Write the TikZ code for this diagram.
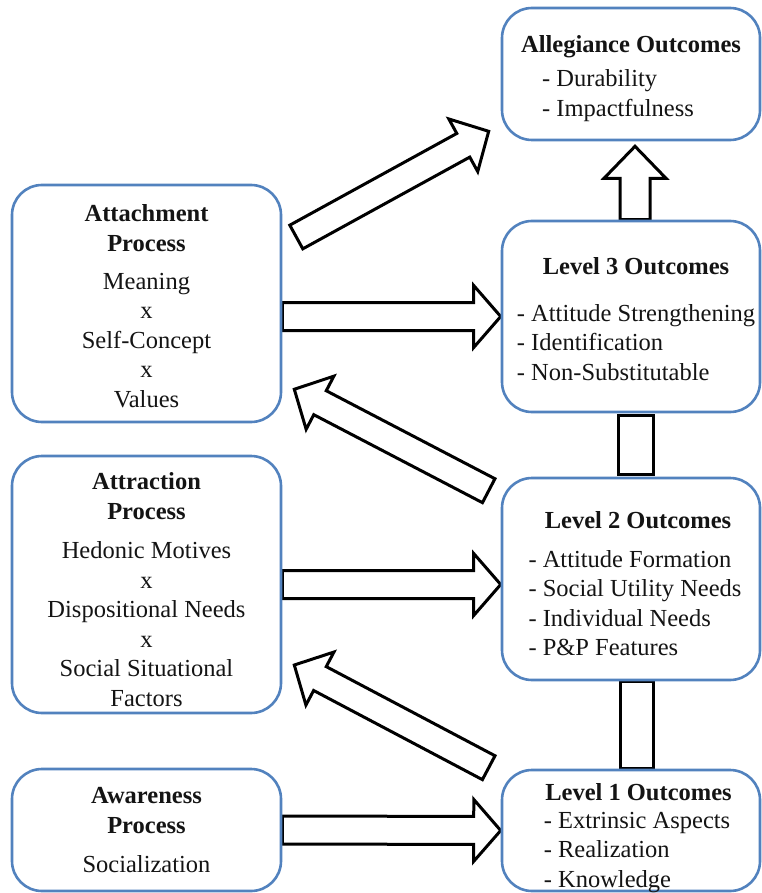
\documentclass[tikz,border=0pt]{standalone}
\usepackage{fontspec}
\setmainfont{Liberation Serif}
\usetikzlibrary{calc}
\pgfdeclarelayer{background}
\pgfsetlayers{background,main}
\definecolor{boxblue}{RGB}{82,130,190}
\definecolor{txt}{RGB}{20,20,20}
% #1 tail, #2 tip, #3 shaft half width, #4 head half width, #5 head length
\newcommand{\fatarrow}[5]{%
  \draw[fatline] let \p1=(#1), \p2=(#2),
      \n1={atan2(\y2-\y1,\x2-\x1)}, \n2={veclen(\x2-\x1,\y2-\y1)} in
    [shift={(\p1)}, rotate=\n1]
    (0pt,-#3pt) -- ({\n2-#5pt},-#3pt) -- ({\n2-#5pt},-#4pt) -- ({\n2+0pt},0pt)
    -- ({\n2-#5pt},#4pt) -- ({\n2-#5pt},#3pt) -- (0pt,#3pt) -- cycle;}
\tikzset{
  box/.style={draw=boxblue, line width=2.6pt, rounded corners=30pt, fill=white,
    inner sep=0pt},
  boxtext/.style={inner sep=0pt, align=center, text=txt,
    font=\fontsize{24.5}{29.5}\selectfont},
  fatline/.style={draw=black, line width=3pt, fill=white, line join=miter}
}
\begin{document}
\begin{tikzpicture}[x=1pt,y=-1pt]
\useasboundingbox (0,0) rectangle (761,893);
% boxes
\node[box, minimum width=258pt, minimum height=132pt] (alleg) at (631,74) {};
\node[box, minimum width=258pt, minimum height=191pt] (lev3) at (631,316.5) {};
\node[box, minimum width=258pt, minimum height=202pt] (lev2) at (631,579) {};
\node[box, minimum width=258pt, minimum height=121pt] (lev1) at (631,830.5) {};
\node[box, minimum width=269pt, minimum height=237pt] (attach) at (146.5,303.5) {};
\node[box, minimum width=269pt, minimum height=257pt] (attr) at (146.5,584.5) {};
\node[box, minimum width=269pt, minimum height=122pt] (aware) at (146.5,830) {};
% texts
\node[boxtext] (allegt) at ($(alleg.center)+(0,6.5)$)
  {\textbf{Allegiance Outcomes}\\[4.5pt]\begin{tabular}[t]{@{}l@{}}- Durability\\- Impactfulness\end{tabular}\hspace*{26pt}};
\node[boxtext] (lev3t) at ($(lev3.center)+(5,6.5)$)
  {\textbf{Level 3 Outcomes}\\[17.5pt]\begin{tabular}[t]{@{}l@{}}- Attitude Strengthening\\- Identification\\- Non-Substitutable\end{tabular}};
\node[boxtext] (lev2t) at ($(lev2.center)+(4,9)$)
  {\hspace*{6pt}\textbf{Level 2 Outcomes}\\[9.5pt]\begin{tabular}[t]{@{}l@{}}- Attitude Formation\\- Social Utility Needs\\- Individual Needs\\- P\&P Features\end{tabular}};
\node[boxtext] (lev1t) at ($(lev1.center)+(6,9)$)
  {\hspace*{3pt}\textbf{Level 1 Outcomes}\\[-1.5pt]\begin{tabular}[t]{@{}l@{}}- Extrinsic Aspects\\- Realization\\- Knowledge\end{tabular}};
\node[boxtext] (attacht) at ($(attach.center)+(0,2.5)$)
  {\textbf{Attachment}\\\textbf{Process}\\[8.5pt]Meaning\\x\\Self-Concept\\x\\Values};
\node[boxtext] (attrt) at ($(attr.center)+(0,5)$)
  {\textbf{Attraction}\\\textbf{Process}\\[10pt]Hedonic Motives\\x\\Dispositional Needs\\x\\Social Situational\\Factors};
\node[boxtext] (awaret) at ($(aware.center)+(0,0)$)
  {\textbf{Awareness}\\\textbf{Process}\\[9.5pt]Socialization};
% free ends of diagonal arrows
\coordinate (d1s) at ($(attach.east)+(14,-66.5)$);
\coordinate (d1e) at ($(alleg.south west)+(-12,-10)$);
\coordinate (d2s) at ($(lev2.north west)+(-12,14)$);
\coordinate (d2e) at ($(attach.south east)+(12,-34)$);
\coordinate (d3s) at ($(lev1.north west)+(-12,-1)$);
\coordinate (d3e) at ($(attr.east)+(12,80.5)$);
\begin{pgfonlayer}{background}
  \fatarrow{attach.east |- lev3.west}{lev3.west}{14}{31}{27}
  \fatarrow{attr.east}{lev2.west |- attr.east}{14}{31}{27}
  \fatarrow{aware.east}{lev1.west}{14}{31}{27}
  \fatarrow{$(lev3.north)+(4,0)$}{$(alleg.south)+(4,5)$}{15}{31}{32}
  \fatarrow{d1s}{d1e}{13.5}{30}{29}
  \fatarrow{d2s}{d2e}{13.5}{30}{29}
  \fatarrow{d3s}{d3e}{13.5}{30}{29}
  \draw[fatline] ($(lev3.south)+(-13,2)$) rectangle ($(lev2.north)+(22,-2)$);
  \draw[fatline] ($(lev2.south)+(-11,0)$) rectangle ($(lev1.north)+(22,0)$);
\end{pgfonlayer}
\end{tikzpicture}
\end{document}
